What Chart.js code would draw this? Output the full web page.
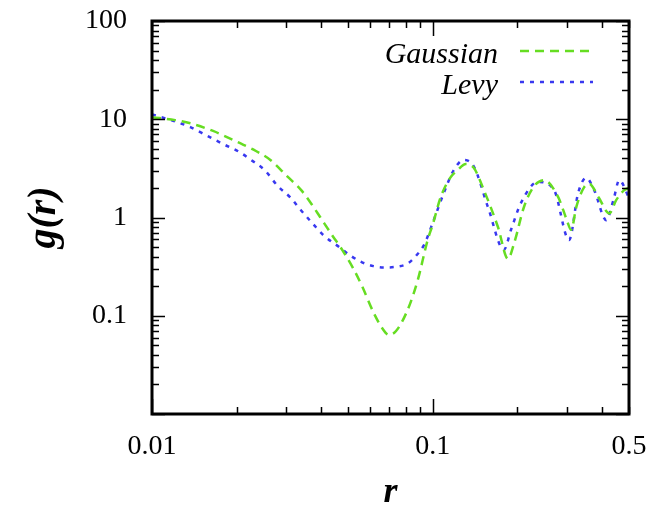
<!DOCTYPE html>
<html>
<head>
<meta charset="utf-8">
<script src="https://cdn.jsdelivr.net/npm/chart.js@4.4.0/dist/chart.umd.min.js"></script>
<style>
  html, body { margin: 0; padding: 0; background: #fff; }
  #wrap { width: 664px; height: 507px; }
</style>
</head>
<body>
<div id="wrap"><canvas id="grafico"></canvas></div>
<script>
// datos
var gaussR = [0.01, 0.0121, 0.0137, 0.0165, 0.0206, 0.023, 0.0264, 0.0304, 0.034, 0.0376, 0.0398, 0.0443, 0.0469, 0.0522, 0.056, 0.0616, 0.066, 0.0697, 0.074, 0.0814, 0.0884, 0.0959, 0.1, 0.1068, 0.115, 0.1228, 0.1312, 0.14, 0.1521, 0.1707, 0.1853, 0.195, 0.2113, 0.23, 0.2491, 0.2795, 0.3, 0.3111, 0.325, 0.3462, 0.3608, 0.39, 0.4253, 0.45, 0.4811, 0.5];
var gaussG = [10.5, 9.8, 9.1, 7.6, 5.7, 4.9, 3.85, 2.6, 1.9, 1.28, 1.0, 0.63, 0.5, 0.3, 0.2, 0.107, 0.075, 0.064, 0.07, 0.115, 0.23, 0.59, 0.85, 1.62, 2.5, 3.05, 3.5, 3.2, 1.9, 0.8, 0.38, 0.55, 1.28, 2.1, 2.4, 1.62, 0.95, 0.75, 1.3, 2.04, 2.2, 1.6, 1.1, 1.5, 1.9, 2.0];

var levyR = [0.01, 0.0121, 0.0137, 0.0157, 0.0179, 0.0206, 0.0224, 0.0253, 0.028, 0.0311, 0.0338, 0.0376, 0.0408, 0.0469, 0.0509, 0.056, 0.0615, 0.0668, 0.074, 0.0814, 0.088, 0.0929, 0.1008, 0.1095, 0.1189, 0.129, 0.1401, 0.1572, 0.1793, 0.19, 0.2062, 0.2371, 0.2705, 0.3059, 0.3296, 0.3519, 0.3758, 0.4149, 0.44, 0.4616, 0.5];
var levyG = [11.2, 9.5, 8.3, 6.8, 5.6, 4.6, 3.9, 3.0, 2.1, 1.6, 1.2, 0.85, 0.66, 0.49, 0.41, 0.35, 0.32, 0.31, 0.315, 0.34, 0.42, 0.52, 0.94, 1.78, 3.05, 3.85, 3.3, 1.28, 0.47, 0.75, 1.41, 2.3, 1.9, 0.59, 1.78, 2.53, 1.9, 0.94, 1.5, 2.4, 1.58];

var xTicks = [0.01, 0.1, 0.5];
var yTicks = [0.1, 1, 10, 100];

function puntos(xs, ys) {
    return xs.map(function (x, i) { return {x: x, y: ys[i]}; });
}

var serif = "'Liberation Serif', 'DejaVu Serif', serif";

// ticks hacia adentro, marco y leyenda estilo gnuplot
var marcoPlugin = {
    id: 'marco',
    afterDraw: function (chart) {
        var ctx = chart.ctx;
        var a = chart.chartArea;
        var xs = chart.scales.x, ys = chart.scales.y;
        ctx.save();
        ctx.strokeStyle = '#000';
        ctx.lineWidth = 1.5;
        var d, m, v, p, len;
        for (d = -2; d <= 2; d++) {
            for (m = 1; m <= 9; m++) {
                v = m * Math.pow(10, d);
                if (v < ys.min * 0.999 || v > ys.max * 1.001) continue;
                p = Math.round(ys.getPixelForValue(v)) + 0.5;
                len = m === 1 ? 13 : 7;
                ctx.beginPath();
                ctx.moveTo(a.left, p); ctx.lineTo(a.left + len, p);
                ctx.moveTo(a.right, p); ctx.lineTo(a.right - len, p);
                ctx.stroke();
            }
        }
        for (d = -2; d <= -1; d++) {
            for (m = 1; m <= 9; m++) {
                v = m * Math.pow(10, d);
                if (v < xs.min * 0.999 || v > xs.max * 1.001) continue;
                p = Math.round(xs.getPixelForValue(v)) + 0.5;
                len = m === 1 ? 15 : 7;
                ctx.beginPath();
                ctx.moveTo(p, a.bottom); ctx.lineTo(p, a.bottom - len);
                ctx.moveTo(p, a.top); ctx.lineTo(p, a.top + len);
                ctx.stroke();
            }
        }
        ctx.lineWidth = 3;
        ctx.strokeRect(a.left, a.top, a.right - a.left, a.bottom - a.top);

        // leyenda
        ctx.font = 'italic 30px ' + serif;
        ctx.textAlign = 'right';
        ctx.textBaseline = 'alphabetic';
        chart.data.datasets.forEach(function (ds, i) {
            var yb = 63 + i * 31;
            ctx.fillStyle = '#000';
            ctx.fillText(ds.label, 498, yb);
            ctx.beginPath();
            ctx.strokeStyle = ds.borderColor;
            ctx.lineWidth = ds.borderWidth;
            ctx.setLineDash(ds.borderDash);
            ctx.moveTo(520, yb - 12);
            ctx.lineTo(593, yb - 12);
            ctx.stroke();
        });
        ctx.restore();
    }
};

document.addEventListener("DOMContentLoaded", function () {
    var ctx = document.getElementById("grafico").getContext("2d");
    var myChart = new Chart(ctx, {
        type: 'line',
        data: {
            datasets: [{
                label: 'Gaussian',
                data: puntos(gaussR, gaussG),
                borderColor: '#66dd22',
                borderWidth: 2.5,
                borderDash: [9, 6],
                pointRadius: 0,
                fill: false,
                cubicInterpolationMode: 'monotone'
            }, {
                label: 'Levy',
                data: puntos(levyR, levyG),
                borderColor: '#3838f0',
                borderWidth: 2.5,
                borderDash: [4, 6],
                pointRadius: 0,
                fill: false,
                cubicInterpolationMode: 'monotone'
            }]
        },
        options: {
            responsive: true,
            maintainAspectRatio: false,
            animation: false,
            events: [],
            layout: { padding: { left: 0, right: 35, top: 21, bottom: 0 } },
            plugins: { legend: { display: false }, tooltip: { enabled: false } },
            scales: {
                x: {
                    type: 'logarithmic',
                    min: 0.01,
                    max: 0.5,
                    grid: { display: false, tickLength: 16 },
                    border: { display: false },
                    afterBuildTicks: function (s) { s.ticks = xTicks.map(function (v) { return {value: v}; }); },
                    afterFit: function (s) { s.height = 93; },
                    ticks: {
                        autoSkip: false,
                        maxRotation: 0,
                        padding: 0,
                        color: '#000',
                        font: { family: serif, size: 28 },
                        callback: function (v) { return String(v); }
                    },
                    title: {
                        display: true,
                        text: 'r',
                        color: '#000',
                        font: { family: serif, size: 36, style: 'italic', weight: 'bold', lineHeight: 0.8 },
                        padding: { top: 0, bottom: 0 }
                    }
                },
                y: {
                    type: 'logarithmic',
                    min: 0.01,
                    max: 100,
                    grid: { display: false, tickLength: 25 },
                    border: { display: false },
                    afterBuildTicks: function (s) { s.ticks = yTicks.map(function (v) { return {value: v}; }); },
                    afterFit: function (s) { s.width = 152; },
                    ticks: {
                        padding: 0,
                        color: '#000',
                        font: { family: serif, size: 28 },
                        callback: function (v) { return String(v); }
                    },
                    title: {
                        display: true,
                        text: 'g(r)',
                        color: '#000',
                        font: { family: serif, size: 40, style: 'italic', weight: 'bold', lineHeight: 1 },
                        padding: { top: 25, bottom: 0 }
                    }
                }
            }
        },
        plugins: [marcoPlugin]
    });
});
</script>
</body>
</html>
